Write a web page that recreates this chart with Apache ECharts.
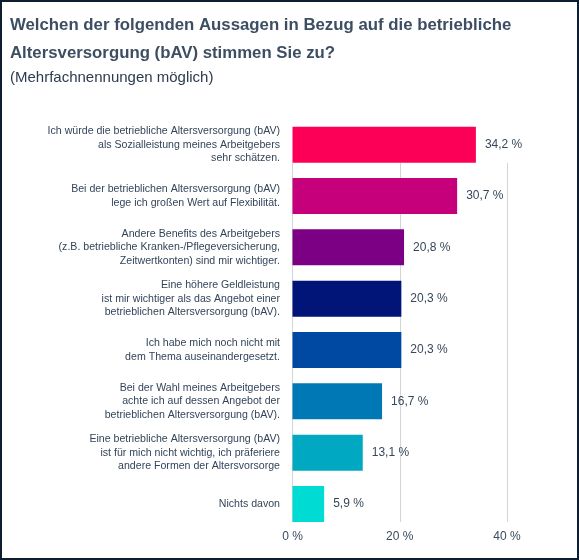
<!DOCTYPE html>
<html>
<head>
<meta charset="utf-8">
<script src="https://cdn.jsdelivr.net/npm/echarts@6/dist/echarts.min.js"></script>
<style>
  html, body { margin: 0; padding: 0; background: #ffffff; }
  #chart { width: 579px; height: 560px; }
</style>
</head>
<body>
<div id="chart"></div>
<script>
const categories = [
  'Ich würde die betriebliche Altersversorgung (bAV)\nals Sozialleistung meines Arbeitgebers\nsehr schätzen.',
  'Bei der betrieblichen Altersversorgung (bAV)\nlege ich großen Wert auf Flexibilität.',
  'Andere Benefits des Arbeitgebers\n(z.B. betriebliche Kranken-/Pflegeversicherung,\nZeitwertkonten) sind mir wichtiger.',
  'Eine höhere Geldleistung\nist mir wichtiger als das Angebot einer\nbetrieblichen Altersversorgung (bAV).',
  'Ich habe mich noch nicht mit\ndem Thema auseinandergesetzt.',
  'Bei der Wahl meines Arbeitgebers\nachte ich auf dessen Angebot der\nbetrieblichen Altersversorgung (bAV).',
  'Eine betriebliche Altersversorgung (bAV)\nist für mich nicht wichtig, ich präferiere\nandere Formen der Altersvorsorge',
  'Nichts davon'
];
const values = [34.2, 30.7, 20.8, 20.3, 20.3, 16.7, 13.1, 5.9];
const barColors = ['#fc0057', '#c6007a', '#7b0084', '#001577', '#0049a2', '#0078b5', '#00a8c1', '#00dcd3'];
const xTicks = [0, 20, 40];

const titleText = 'Welchen der folgenden Aussagen in Bezug auf die betriebliche\nAltersversorgung (bAV) stimmen Sie zu?';
const subtitleText = '(Mehrfachnennungen möglich)';

const chart = echarts.init(document.getElementById('chart'), null, { renderer: 'canvas' });
const FONT = 'Liberation Sans, Arial, sans-serif';
const fmtPct = v => v.toFixed(1).replace('.', ',') + ' %';

chart.setOption({
  animation: false,
  backgroundColor: '#ffffff',
  textStyle: { fontFamily: FONT },
  title: [
    {
      text: titleText,
      left: 10, top: 12, padding: 0,
      textStyle: { fontSize: 16.8, fontWeight: 'bold', color: '#3d4e62', lineHeight: 27.5, fontFamily: FONT }
    },
    {
      text: subtitleText,
      left: 10, top: 69, padding: 0,
      textStyle: { fontSize: 15, fontWeight: 'normal', color: '#2c3b4d', lineHeight: 18, fontFamily: FONT }
    }
  ],
  graphic: [{
    type: 'rect',
    shape: { x: 1, y: 1, width: 577, height: 558 },
    style: { fill: 'none', stroke: '#0f1d31', lineWidth: 2 },
    z: 100
  }],
  grid: [
    { left: 292.5, right: 72, top: 119, bottom: 30.3 },
    { left: 292.5, right: 72, top: 163, bottom: 38 }
  ],
  xAxis: [
    {
      gridIndex: 0, type: 'value', min: 0, max: 40, interval: 20,
      axisLine: { show: false }, axisTick: { show: false },
      axisLabel: { show: false }, splitLine: { show: false }
    },
    {
      gridIndex: 1, type: 'value', min: 0, max: 40, interval: 20,
      axisLine: { show: false }, axisTick: { show: false },
      axisLabel: {
        show: true, margin: 9, fontSize: 12, color: '#3a4a5c', fontFamily: FONT,
        formatter: v => (xTicks.indexOf(v) >= 0 ? v + ' %' : '')
      },
      splitLine: { show: true, lineStyle: { color: '#d3d6d9', width: 1 } }
    }
  ],
  yAxis: [
    {
      gridIndex: 0, type: 'category', data: categories, inverse: true,
      axisLine: { show: false }, axisTick: { show: false },
      axisLabel: {
        margin: 12.5, fontSize: 10.6, lineHeight: 13.3, color: '#33455a',
        align: 'right', fontFamily: FONT
      }
    },
    {
      gridIndex: 1, type: 'category', data: categories, inverse: true, show: false
    }
  ],
  series: [{
    type: 'bar',
    xAxisIndex: 0, yAxisIndex: 0,
    barWidth: 36,
    data: values.map((v, i) => ({ value: v, itemStyle: { color: barColors[i] } })),
    label: {
      show: true, position: 'right', distance: 9,
      fontSize: 12, color: '#37475a', fontFamily: FONT,
      formatter: p => fmtPct(p.value)
    },
    z: 3
  }]
});
</script>
</body>
</html>
